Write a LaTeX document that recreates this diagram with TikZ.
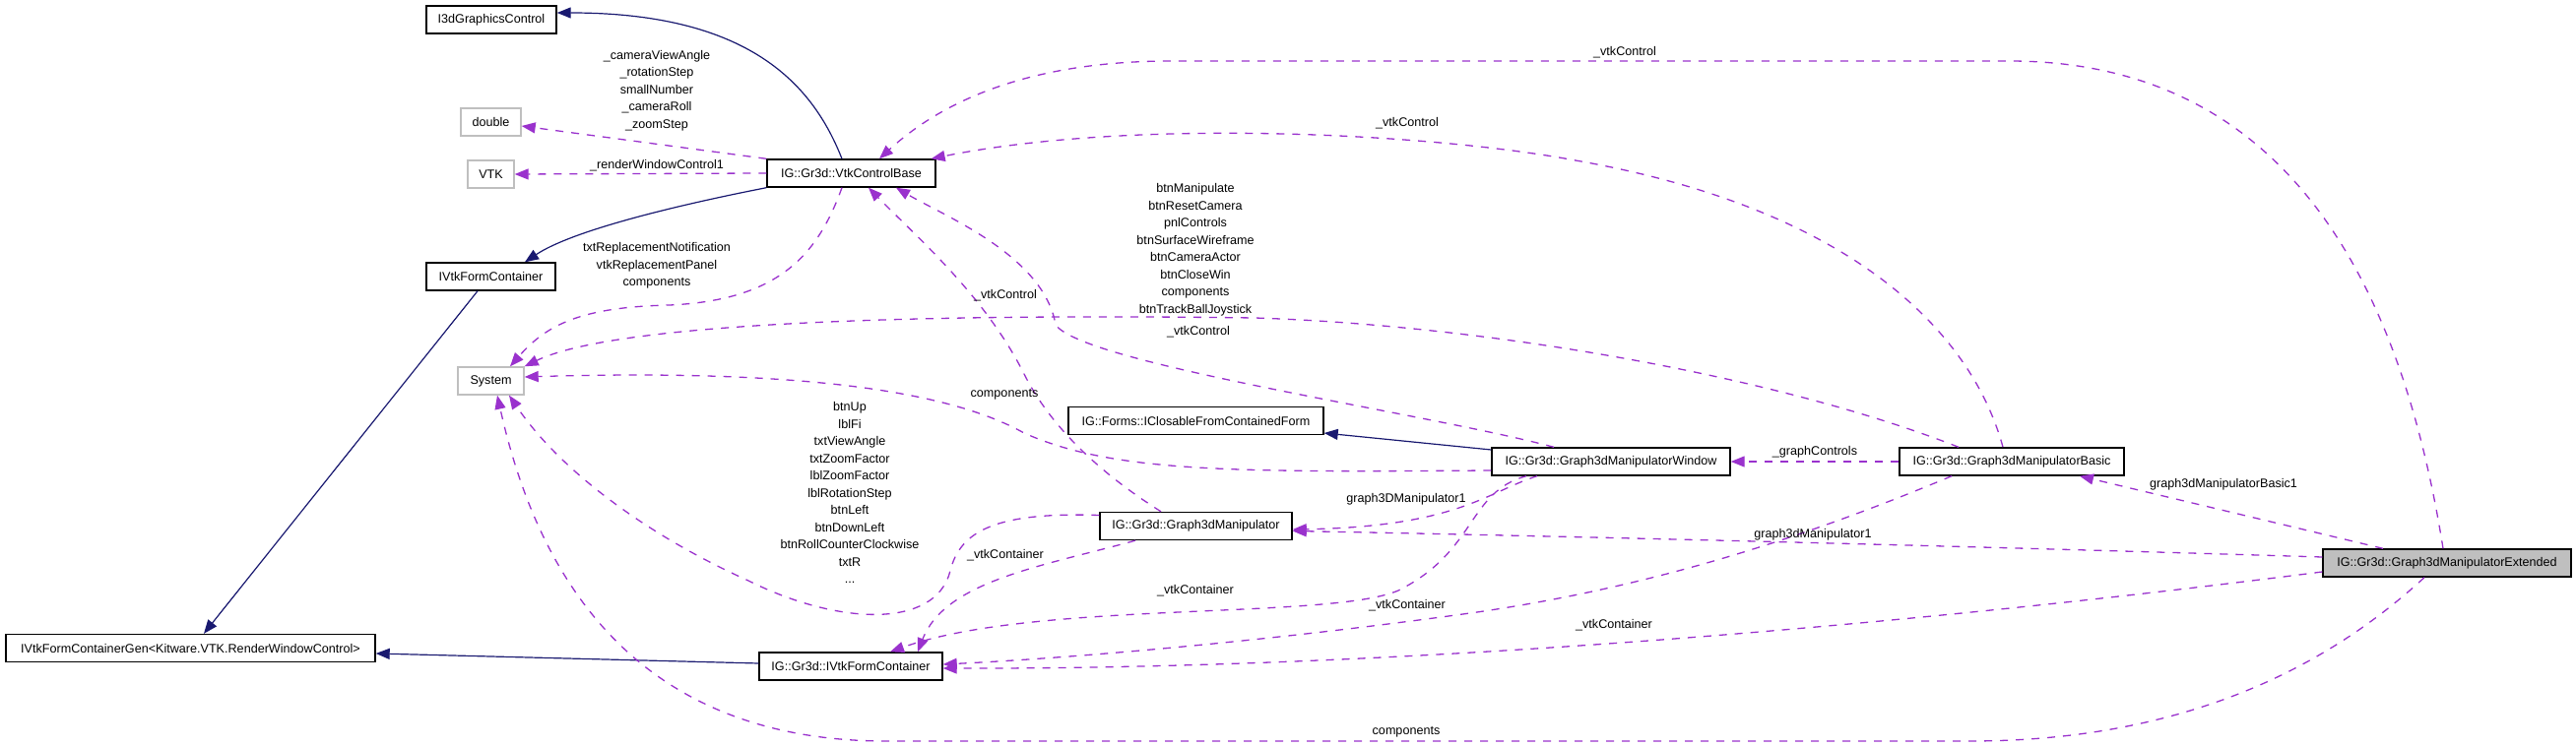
\documentclass[tikz,border=0pt]{standalone}
\usepackage{fontspec}
\setmainfont{Liberation Sans}
\usepackage{tikz}
\usetikzlibrary{arrows.meta,positioning}
\definecolor{usecol}{HTML}{9A32CD}
\definecolor{inhcol}{HTML}{191970}
\definecolor{libgray}{HTML}{BFBFBF}

\begin{document}
\begin{tikzpicture}[x=1pt, y=-1pt,
  cls/.style={draw=black, fill=white, line width=1.4pt, minimum height=28pt, inner sep=0pt,
              font=\fontsize{12.6}{15}\selectfont},
  lib/.style={cls, draw=libgray},
  cur/.style={cls, fill=libgray},
  inh/.style={-{Triangle[length=14pt, width=11pt]}, draw=inhcol, line width=1.2pt},
  use/.style={-{Triangle[length=14pt, width=11pt]}, draw=usecol, line width=1.3pt,
              dash pattern=on 8pt off 8pt},
  lab/.style={font=\fontsize{12.6}{17.5}\selectfont, align=center, inner sep=0pt}]
\useasboundingbox (0,0) rectangle (2616,759);

% classes
\node[cls, minimum width=132pt] (i3d) at (499,20) {I3dGraphicsControl};
\node[lib, minimum width=61pt] (dbl) at (498.5,124) {double};
\node[lib, minimum width=47pt] (vtk) at (498.5,177) {VTK};
\node[cls, minimum width=171pt] (ctrl) at (864.5,176) {IG::Gr3d::VtkControlBase};
\node[cls, minimum width=131pt] (fc) at (498.5,281) {IVtkFormContainer};
\node[lib, minimum width=67pt] (sys) at (498.5,387) {System};
\node[cls, minimum width=375pt] (gen) at (193.5,658.5) {IVtkFormContainerGen<Kitware.VTK.RenderWindowControl>};
\node[cls, minimum width=186pt] (ifc) at (864,677) {IG::Gr3d::IVtkFormContainer};
\node[cls, minimum width=259pt] (clos) at (1214.5,427.5) {IG::Forms::IClosableFromContainedForm};
\node[cls, minimum width=195pt] (man) at (1214.5,534.5) {IG::Gr3d::Graph3dManipulator};
\node[cls, minimum width=242pt] (win) at (1636,469) {IG::Gr3d::Graph3dManipulatorWindow};
\node[cls, minimum width=228pt] (basic) at (2043,469) {IG::Gr3d::Graph3dManipulatorBasic};
\node[cur, minimum width=252pt] (gext) at (2485,572) {IG::Gr3d::Graph3dManipulatorExtended};

% inheritance
\draw[inh] ([xshift=-9.5pt]ctrl.north) .. controls (825,85) and (760,13) .. ([yshift=7pt]i3d.east);
\draw[inh] (ctrl.south west) .. controls (680,210) and (580,235) .. ([xshift=34.5pt]fc.north);
\draw[inh] ([xshift=-13.5pt]fc.south) -- ([xshift=13.5pt]gen.north);
\draw[inh] ([yshift=3pt]ifc.west) -- ([yshift=-5.5pt]gen.east);
\draw[inh] ([yshift=12pt]win.west) -- ([yshift=-12.5pt]clos.east);

% usage
\draw[use] (ctrl.north west) -- ([yshift=-4pt]dbl.east);
\draw[use] (ctrl.west) -- (vtk.east);
\draw[use] ([xshift=-9.5pt]ctrl.south) .. controls (830,260) and (790,305) .. (680,310)
  .. controls (590,312) and (555,330) .. ([xshift=19.5pt]sys.north);
\draw[use] ([xshift=-54pt]basic.north) .. controls (1800,380) and (1500,330) .. (1274,323)
  .. controls (900,318) and (620,330) .. (sys.north east);
\draw[use] ([yshift=-9pt]win.west) .. controls (1250,480) and (1130,480) .. (1040,440)
  .. controls (960,395) and (800,375) .. ([yshift=4pt]sys.east);
\draw[use] ([yshift=11pt]man.west) .. controls (1010,520) and (975,540) .. (965,580)
  .. controls (950,640) and (850,635) .. (760,590)
  .. controls (660,545) and (570,480) .. ([xshift=18.5pt]sys.south);
\draw[use] ([xshift=-23pt]gext.south) .. controls (2350,690) and (2200,753) .. (2000,753) -- (900,753)
  .. controls (700,753) and (560,650) .. ([xshift=6.5pt]sys.south);
\draw[use] ([xshift=-4pt]gext.north) .. controls (2440,300) and (2330,62) .. (2040,62) -- (1190,62)
  .. controls (1050,62) and (960,100) .. ([xshift=28.5pt]ctrl.north);
\draw[use] ([xshift=-9pt]basic.north) .. controls (2000,330) and (1870,210) .. (1600,163)
  .. controls (1450,135) and (1150,120) .. ([xshift=-5pt]ctrl.north east);
\draw[use] ([xshift=-35.5pt]man.north) .. controls (1100,470) and (1060,420) .. (1040,380)
  .. controls (1000,300) and (930,240) .. ([xshift=17.5pt]ctrl.south);
\draw[use] ([xshift=-58pt]win.north) .. controls (1450,420) and (1100,370) .. (1072,330)
  .. controls (1060,260) and (960,220) .. ([xshift=45.5pt]ctrl.south);
\draw[use] ([xshift=-61.5pt]man.south) .. controls (1060,575) and (960,590) .. ([xshift=68pt]ifc.north);
\draw[use] ([xshift=-86pt]win.south) .. controls (1490,500) and (1500,560) .. (1420,600)
  .. controls (1350,630) and (1050,610) .. ([xshift=40pt]ifc.north);
\draw[use] ([xshift=-75pt]win.south) .. controls (1510,500) and (1480,535) .. ([yshift=-3.5pt]man.east);
\draw[use] ([yshift=6pt]gext.west) .. controls (2000,555) and (1600,545) .. ([yshift=-5pt]man.east);
\draw[use] ([xshift=-61pt]basic.south) .. controls (1800,560) and (1650,600) .. (1500,622)
  .. controls (1300,650) and (1100,668) .. ([yshift=2pt]ifc.east);
\draw[use] ([yshift=-9pt]gext.west) .. controls (1900,640) and (1400,680) .. ([yshift=-2pt]ifc.east);
\draw[use] (basic.west) -- (win.east);
\draw[use] ([xshift=-65pt]gext.north) -- ([xshift=69pt]basic.south);

% member names
\node[lab] (ldbl) at (667,92) {\_cameraViewAngle\\\_rotationStep\\smallNumber\\\_cameraRoll\\\_zoomStep};
\node[lab] (lvtk) at (667,168) {\_renderWindowControl1};
\node[lab] (lsysa) at (667,270) {txtReplacementNotification\\vtkReplacementPanel\\components};
\node[lab] (lsysb) at (1214,253.5) {btnManipulate\\btnResetCamera\\pnlControls\\btnSurfaceWireframe\\btnCameraActor\\btnCloseWin\\components\\btnTrackBallJoystick};
\node[lab] (lsysc) at (1020,401) {components};
\node[lab] (lsysd) at (863,500.5) {btnUp\\lblFi\\txtViewAngle\\txtZoomFactor\\lblZoomFactor\\lblRotationStep\\btnLeft\\btnDownLeft\\btnRollCounterClockwise\\txtR\\...};
\node[lab] (lsyse) at (1428,744) {components};
\node[lab] (lctra) at (1650,53) {\_vtkControl};
\node[lab] (lctrb) at (1429,125) {\_vtkControl};
\node[lab] (lctrc) at (1021,300) {\_vtkControl};
\node[lab] (lctrd) at (1217,337) {\_vtkControl};
\node[lab] (lifca) at (1021,564) {\_vtkContainer};
\node[lab] (lifcb) at (1214,600) {\_vtkContainer};
\node[lab] (lifcc) at (1429,615) {\_vtkContainer};
\node[lab] (lifcd) at (1639,635) {\_vtkContainer};
\node[lab] (lmana) at (1428,507) {graph3DManipulator1};
\node[lab] (lmanb) at (1841,543) {graph3dManipulator1};
\node[lab] (lwin) at (1843,459) {\_graphControls};
\node[lab] (lbas) at (2258,492) {graph3dManipulatorBasic1};
\end{tikzpicture}
\end{document}
